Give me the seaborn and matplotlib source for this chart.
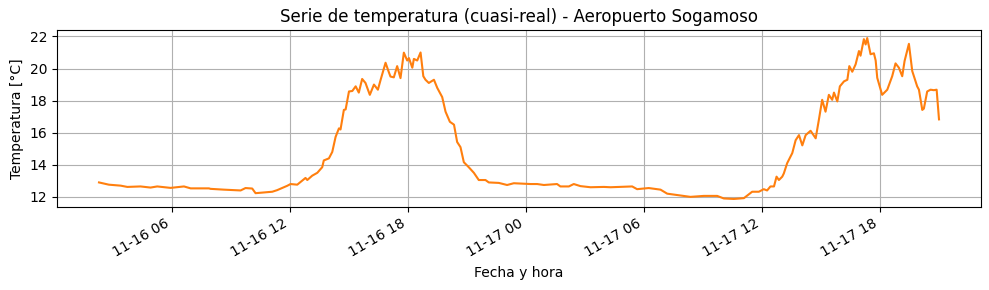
import matplotlib
matplotlib.use("Agg")
import matplotlib.pyplot as plt
import matplotlib.dates as mdates
import seaborn as sns
import pandas as pd

# hours since 2025-11-16 00:00
hours = [
    2.31, 2.48, 2.81, 3.41, 3.75, 4.42, 4.93, 5.27, 5.95, 6.63, 6.97, 7.90, 7.98, 8.66,
    9.51, 9.76, 10.10, 10.27, 11.12, 11.37, 11.88,
    12.05, 12.39, 12.81, 12.90, 13.15, 13.41, 13.66, 13.74, 14.00, 14.17, 14.34, 14.51,
    14.59, 14.76, 14.85, 15.02, 15.19, 15.36, 15.52, 15.69, 15.86, 16.08, 16.29, 16.49,
    16.63, 16.88, 17.05, 17.13, 17.30, 17.47, 17.64, 17.81, 17.98, 18.07, 18.24, 18.32,
    18.49, 18.66, 18.80, 18.91, 19.08, 19.34, 19.51, 19.76, 19.93, 20.15, 20.36,
    20.52, 20.69, 20.86, 21.11, 21.37, 21.62, 21.96, 22.13, 22.64, 23.06, 23.40, 24.25,
    24.59, 24.93, 25.60, 25.77, 26.20, 26.45, 26.79, 27.30, 27.98, 28.32, 29.42, 29.67,
    30.26, 30.86, 31.20, 32.04, 32.38, 33.06, 33.74, 34.08, 34.59, 35.10, 35.52, 35.86,
    36.11, 36.28, 36.45,
    36.63, 36.76, 36.88, 37.05, 37.13, 37.30, 37.56, 37.73, 37.90, 38.07, 38.24, 38.49,
    38.75, 38.91, 39.08, 39.25, 39.42, 39.59, 39.68, 39.85, 39.98, 40.19, 40.36, 40.46,
    40.61, 40.78, 40.95, 41.03, 41.20, 41.29, 41.37, 41.54, 41.71, 41.80, 41.88, 42.13,
    42.39, 42.64, 42.81, 42.98, 43.15, 43.27, 43.49, 43.66, 43.91, 44.00, 44.17, 44.25,
    44.42, 44.59, 44.76, 44.90, 45.02,
]
temps = [
    12.90, 12.85, 12.76, 12.70, 12.62, 12.65, 12.58, 12.65, 12.56, 12.65, 12.53, 12.53, 12.50, 12.45,
    12.40, 12.55, 12.52, 12.23, 12.32, 12.42, 12.69,
    12.80, 12.76, 13.18, 13.05, 13.32, 13.50, 13.85, 14.27, 14.40, 14.80, 15.74, 16.27,
    16.20, 17.42, 17.45, 18.57, 18.60, 18.89, 18.50, 19.35, 19.10, 18.36, 19.00, 18.68,
    19.30, 20.36, 19.76, 19.50, 19.45, 20.15, 19.40, 20.99, 20.50, 20.65, 20.05, 20.60,
    20.50, 21.00, 19.52, 19.30, 19.10, 19.30, 18.79, 18.22, 17.31, 16.68, 16.50,
    15.42, 15.10, 14.16, 13.85, 13.50, 13.05, 13.05, 12.90, 12.87, 12.74, 12.85, 12.80,
    12.80, 12.74, 12.80, 12.65, 12.65, 12.80, 12.67, 12.60, 12.62, 12.60, 12.65, 12.48,
    12.55, 12.45, 12.20, 12.06, 12.00, 12.06, 12.06, 11.90, 11.87, 11.92, 12.32, 12.32,
    12.48, 12.40, 12.65,
    12.65, 13.26, 13.05, 13.26, 13.46, 14.10, 14.73, 15.53, 15.85, 15.21, 15.85, 16.12,
    15.65, 16.79, 18.05, 17.31, 18.36, 18.05, 18.50, 17.95, 18.89, 19.20, 19.30, 20.15,
    19.80, 20.26, 21.09, 20.80, 21.83, 21.50, 21.90, 20.89, 20.95, 20.50, 19.42, 18.36,
    18.68, 19.52, 20.32, 20.05, 19.52, 20.47, 21.54, 19.84, 18.89, 18.68, 17.42, 17.50,
    18.57, 18.68, 18.65, 18.68, 16.83,
]

start = pd.Timestamp("2025-11-16 00:00")
df = pd.DataFrame({
    "fecha": start + pd.to_timedelta(hours, unit="h"),
    "temp": temps,
})

fig, ax = plt.subplots(figsize=(9.89, 2.9), dpi=100)
sns.lineplot(data=df, x="fecha", y="temp", ax=ax, color="#ff7f0e", linewidth=1.5)
ax.set_title("Serie de temperatura (cuasi-real) - Aeropuerto Sogamoso")
ax.set_xlabel("Fecha y hora")
ax.set_ylabel("Temperatura [°C]")
ax.grid(True)
ax.xaxis.set_major_locator(mdates.HourLocator(byhour=[0, 6, 12, 18]))
ax.xaxis.set_major_formatter(mdates.DateFormatter("%m-%d %H"))
fig.autofmt_xdate()
fig.subplots_adjust(left=57/989, right=981/989, top=1-30/290, bottom=1-207/290)
fig.savefig("out.png", dpi=100)
